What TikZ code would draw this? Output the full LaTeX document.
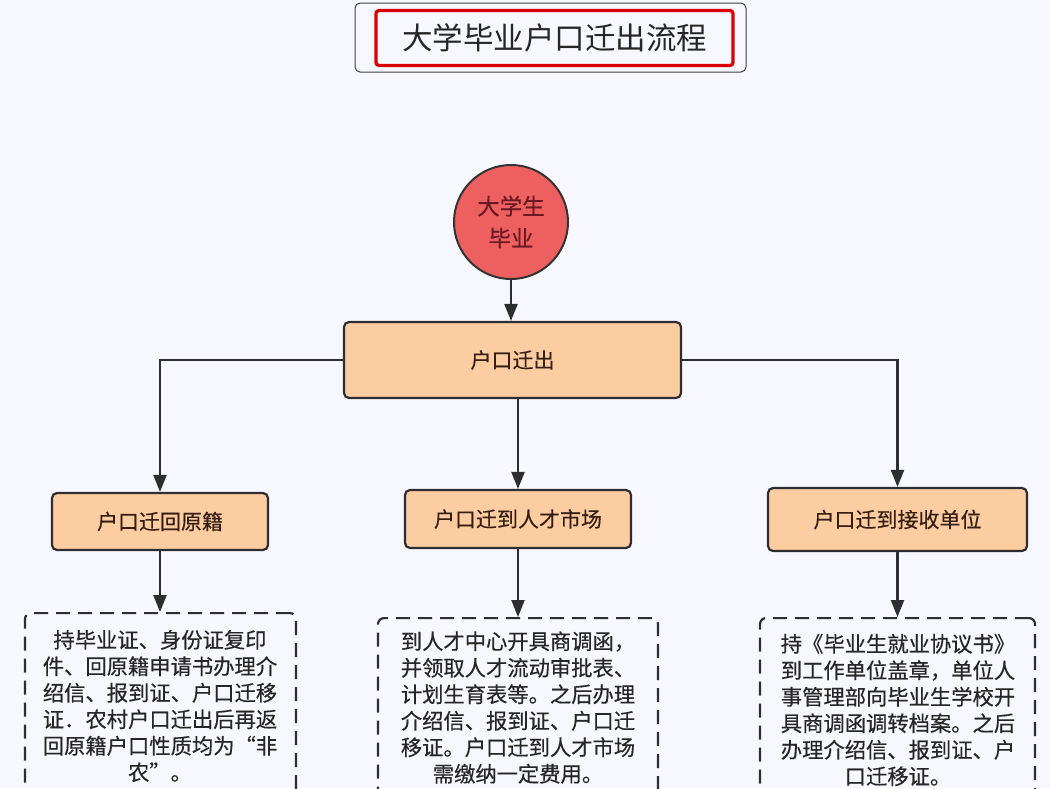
\documentclass[tikz,border=0pt]{standalone}
\usepackage{fontspec}
\setmainfont{Noto Sans CJK SC}
\newfontfamily\heavycjk{Noto Sans CJK SC}[FakeBold=0.4]
\usetikzlibrary{arrows.meta}
\definecolor{boxfill}{RGB}{251,205,160}
\definecolor{ballfill}{RGB}{238,96,96}
\definecolor{linecol}{RGB}{45,45,50}
\definecolor{ballink}{RGB}{105,25,35}
\definecolor{boxink}{RGB}{55,30,20}
\tikzset{
  stepbox/.style={draw=linecol, line width=2.2pt, fill=boxfill, rounded corners=5pt,
    text=boxink, font=\heavycjk\fontsize{21}{24}\selectfont},
  notebox/.style={draw=linecol, line width=2.2pt, rounded corners=6pt,
    dash pattern=on 14pt off 8pt, anchor=north},
  notetxt/.style={align=center, text=black!85, font=\heavycjk\fontsize{21.3}{26.5}\selectfont},
  arr/.style={draw=linecol, line width=2.2pt, -{Triangle[length=17pt,width=13pt]}},
  link/.style={draw=linecol, line width=2.2pt}
}
\begin{document}
\begin{tikzpicture}[x=1pt, y=-1pt]
    % 背景
    \clip (0,0) rectangle (1050,788);
    \fill[white!97!blue] (0,0) rectangle (1050,788);

    % 标题
    \node[draw=black!75, line width=1pt, rounded corners=5pt, minimum width=391, minimum height=69] (titleframe) at (550.5,37.5) {};
    \node[draw=red!85!black, line width=3.2pt, rounded corners=3pt, minimum width=357, minimum height=55,
      font=\fontsize{30.5}{34}\selectfont, text=black!85] (title) at (554.5,38) {大学毕业户口迁出流程};

    % 起点
    \node[circle, draw=black!80, line width=2pt, fill=ballfill, minimum size=114, align=center,
      text=ballink, font=\heavycjk\fontsize{22.5}{32}\selectfont] (grad) at (511,222) {大学生\\毕业};

    % 户口迁出
    \node[stepbox, minimum width=337, minimum height=76] (out) at (512.5,360) {户口迁出};

    % 三种去向
    \node[stepbox, minimum width=216, minimum height=57] (hk1) at (160,521.5) {户口迁回原籍};
    \node[stepbox, minimum width=226, minimum height=58] (hk2) at (518,519) {户口迁到人才市场};
    \node[stepbox, minimum width=259, minimum height=63] (hk3) at (897.5,519.5) {户口迁到接收单位};

    % 说明框
    \node[notebox, minimum width=271, minimum height=220] (note1) at (160.5,612) {};
    \node[notebox, minimum width=280, minimum height=220] (note2) at (518,617) {};
    \node[notebox, minimum width=275, minimum height=220] (note3) at (897.5,617) {};

    \node[notetxt] (txt1) at (160,706) {持毕业证、身份证复印\\件、回原籍申请书办理介\\绍信、报到证、户口迁移\\证．农村户口迁出后再返\\回原籍户口性质均为“非\\农”。};
    \node[notetxt] (txt2) at (518,707.5) {到人才中心开具商调函，\\并领取人才流动审批表、\\计划生育表等。之后办理\\介绍信、报到证、户口迁\\移证。户口迁到人才市场\\需缴纳一定费用。};
    \node[notetxt] (txt3) at (898,710) {持《毕业生就业协议书》\\到工作单位盖章，单位人\\事管理部向毕业生学校开\\具商调函调转档案。之后\\办理介绍信、报到证、户\\口迁移证。};

    % 连线
    \draw[arr] (grad.south) -- (grad.south |- out.north);
    \draw[arr] (out.west) -| (hk1.north);
    \draw[arr] (out.south -| hk2.north) -- (hk2.north);
    \draw[arr] (out.east) -| (hk3.north);
    \draw[arr] (hk1.south) -- (hk1.south |- note1.north);
    \draw[arr] (hk2.south) -- (hk2.south |- note2.north);
    \draw[arr] (hk3.south) -- (hk3.south |- note3.north);
\end{tikzpicture}
\end{document}
